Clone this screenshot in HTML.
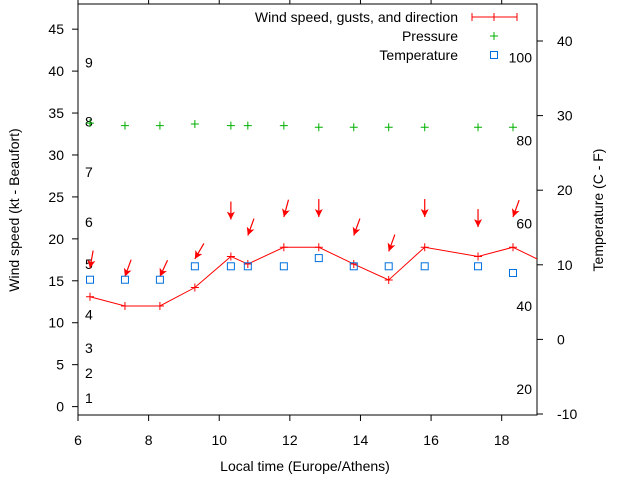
<!DOCTYPE html>
<html><head><meta charset="utf-8"><style>
body{margin:0;background:#fff}
svg text{font-family:"Liberation Sans",sans-serif;font-size:14px;fill:#000}
</style></head><body>
<svg id="c" width="640" height="480"></svg>
<script>
const hours=[6.34,7.33,8.32,9.31,10.33,10.81,11.83,12.82,13.81,14.80,15.82,17.33,18.32,19.3];
const wind=[13.1,12.0,12.0,14.2,17.9,17.0,19.0,19.0,17.0,15.1,19.0,17.9,19.0,17.0];
const gust=[16.5,15.5,15.5,17.6,22.3,20.4,22.6,22.6,20.4,18.5,22.6,21.4,22.6];
const dirDeg=[10,20,25,30,0,20,15,0,20,20,0,0,20];
const pressure=[33.8,33.5,33.5,33.7,33.5,33.5,33.5,33.3,33.3,33.3,33.3,33.3,33.3];
const tempC=[8.0,8.0,8.0,9.8,9.8,9.8,9.8,10.9,9.8,9.8,9.8,9.8,8.9];
const xTicks=[6,8,10,12,14,16,18];
const yTicks=[0,5,10,15,20,25,30,35,40,45];
const y2Ticks=[-10,0,10,20,30,40];
const beaufort=[1,4,7,11,17,22,28,34,41];
const fahr=[20,40,60,80,100];
const L=78,R=537,T=4,B=415;
const sx=h=>L+(h-6)/(19-6)*(R-L);
const sy=v=>B-(v+1)/(49)*(B-T);
const sy2=t=>414-(t+10)*7.46;
const NS='http://www.w3.org/2000/svg',svg=document.getElementById('c');
function mk(tag,at,par){const e=document.createElementNS(NS,tag);for(const k in at)e.setAttribute(k,at[k]);(par||svg).appendChild(e);return e;}
const defs=mk('defs',{});const cp=mk('clipPath',{id:'clip'},defs);mk('rect',{x:L,y:T,width:R-L,height:B-T},cp);
let fr=mk('rect',{x:L,y:T,width:R-L,height:B-T,fill:'none',stroke:'#000','stroke-width':1});

xTicks.forEach(h=>{const x=sx(h);mk('line',{x1:x,x2:x,y1:B,y2:B+6,stroke:'#000'});mk('line',{x1:x,x2:x,y1:T,y2:T-6,stroke:'#000'});
 let t=mk('text',{x:x,y:B+30,'text-anchor':'middle'});t.textContent=h;});
yTicks.forEach(v=>{const y=sy(v);mk('line',{x1:L-6,x2:L,y1:y,y2:y,stroke:'#000'});
 let t=mk('text',{x:L-14,y:y+5,'text-anchor':'end'});t.textContent=v;});
y2Ticks.forEach(v=>{const y=sy2(v);mk('line',{x1:R,x2:R+6,y1:y,y2:y,stroke:'#000'});
 let t=mk('text',{x:R+20,y:y+5,'text-anchor':'start'});t.textContent=v;});
beaufort.forEach((k,i)=>{let t=mk('text',{x:85,y:sy(k)+5});t.textContent=i+1;});
fahr.forEach(f=>{let t=mk('text',{x:532,y:sy2((f-32)*5/9)+5,'text-anchor':'end'});t.textContent=f;});
const g=mk('g',{'clip-path':'url(#clip)'});
let pl=mk('polyline',{points:hours.map((h,i)=>sx(h)+','+sy(wind[i])).join(' '),fill:'none',stroke:'#f00','stroke-width':1},g);

hours.forEach((h,i)=>{const x=sx(h),y=sy(wind[i]);mk('path',{d:`M${x-4} ${y}h8M${x} ${y-4}v8`,stroke:'#f00'},g);});
gust.forEach((v,i)=>{const x=sx(hours[i]),y=sy(v),a=dirDeg[i]*Math.PI/180,len=18;
 const tx=x+Math.sin(a)*len,ty=y-Math.cos(a)*len;
 let ag=mk('g',{},g);
 mk('line',{x1:tx,y1:ty,x2:x,y2:y,stroke:'#f00','stroke-width':1.2},ag);
 const ux=(x-tx)/len,uy=(y-ty)/len,px=-uy,py=ux;
 mk('polygon',{points:`${x},${y} ${x-ux*8+px*4},${y-uy*8+py*4} ${x-ux*6},${y-uy*6} ${x-ux*8-px*4},${y-uy*8-py*4}`,fill:'#f00'},ag);});
pressure.forEach((v,i)=>{const x=sx(hours[i]),y=sy(v);let p=mk('path',{d:`M${x-4} ${y}h8M${x} ${y-4}v8`,stroke:'#00b000'},g);});
tempC.forEach((v,i)=>{const x=sx(hours[i]),y=sy2(v);let r=mk('rect',{x:x-3.5,y:y-3.5,width:7,height:7,fill:'none',stroke:'#0070e0'},g);});
// legend
const lg=mk('g',{});
[['Wind speed, gusts, and direction',17],['Pressure',36],['Temperature',55]].forEach(([s,y])=>{let t=mk('text',{x:458,y:y+5,'text-anchor':'end'},lg);t.textContent=s;});
mk('path',{d:'M472 17h45M472 13v8M494 13v8M517 13v8',stroke:'#f00'},lg);
mk('path',{d:'M490 36h8M494 32v8',stroke:'#00b000'},lg);
mk('rect',{x:490.5,y:51.5,width:7,height:7,fill:'none',stroke:'#0070e0'},lg);
let xl=mk('text',{x:305,y:471,'text-anchor':'middle'});xl.textContent='Local time (Europe/Athens)';
let yl=mk('text',{x:0,y:0,'text-anchor':'middle',transform:'translate(19,210) rotate(-90)'});yl.textContent='Wind speed (kt - Beaufort)';
let y2l=mk('text',{x:0,y:0,'text-anchor':'middle',transform:'translate(603,210) rotate(-90)'});y2l.textContent='Temperature (C - F)';
</script>
</body></html>
